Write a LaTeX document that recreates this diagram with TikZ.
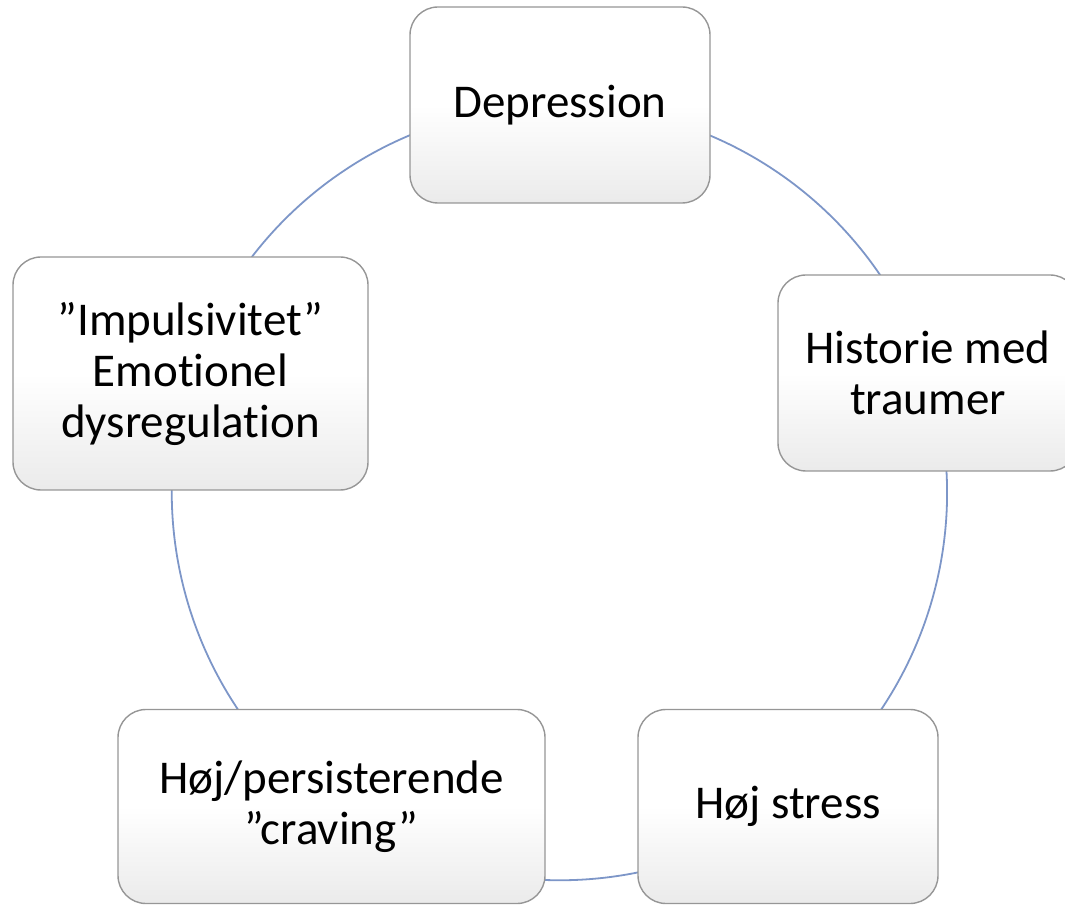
\documentclass[tikz,border=0pt]{standalone}
\usepackage{fontspec}
\setmainfont{Carlito}[Ligatures={NoCommon,NoRequired,NoContextual}]
\usepackage{xcolor}
\usepackage{tikz}
\usetikzlibrary{backgrounds}

\definecolor{cycleblue}{RGB}{125,150,200}
\definecolor{boxedge}{RGB}{150,150,150}

\begin{document}
\begin{tikzpicture}[
        x=1pt, y=1pt,
        box/.style={rectangle, draw=boxedge, line width=1.4pt, rounded corners=28pt,
                    top color=white, bottom color=gray!16, middle color=white,
                    align=center, font=\fontsize{47}{51}\selectfont,
                    minimum width=300pt, minimum height=196pt, inner sep=0pt},
        link/.style={draw=cycleblue, line width=1.8pt, bend left=36, looseness=0.94}
      ]
      \useasboundingbox (0,0) rectangle (1065,905);

      % Boxes round the cycle
      \node (dep) [box] at (560,800) {Depression};
      \node (hist) [box] at (928,532) {Historie med\\traumer};
      \node (stress) [box, minimum height=194pt] at (788,98.5) {Høj stress};
      \node (crav) [box, minimum width=427pt, minimum height=194pt] at (331.5,98.5) {Høj/persisterende\\”craving”};
      \node (imp) [box, minimum width=355pt, minimum height=233pt] at (190.5,531.5) {”Impulsivitet”\\Emotionel\\dysregulation};

      % Circle pieces behind the boxes
      \begin{scope}[on background layer]
        \draw [link] (dep.center) to (hist.center);
        \draw [link] (hist.center) to (stress.center);
        \draw [link] (stress.center) to (crav.center);
        \draw [link] (crav.center) to (imp.center);
        \draw [link] (imp.center) to (dep.center);
      \end{scope}

    \end{tikzpicture}
\end{document}
